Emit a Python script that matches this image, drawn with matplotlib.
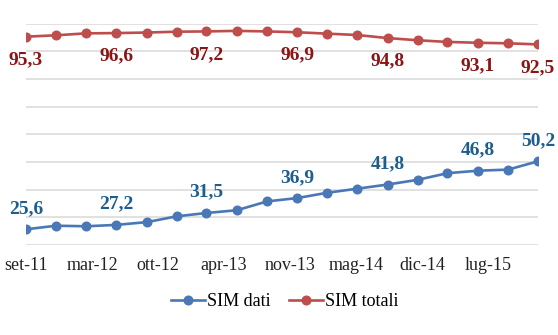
import datetime as dt

import matplotlib
matplotlib.use("Agg")
import matplotlib.pyplot as plt
import matplotlib.dates as mdates
from matplotlib.ticker import FixedLocator, FuncFormatter

# ── Dati (trimestrali, set-11 → dic-15) ────────────────────────────────────
periodi = [
    "2011-09", "2011-12", "2012-03", "2012-06", "2012-09", "2012-12",
    "2013-03", "2013-06", "2013-09", "2013-12", "2014-03", "2014-06",
    "2014-09", "2014-12", "2015-03", "2015-06", "2015-09", "2015-12",
]
sim_dati = [
    25.6, 26.9, 26.7, 27.2, 28.2, 30.3, 31.5, 32.5, 35.7,
    36.9, 38.8, 40.3, 41.8, 43.5, 45.9, 46.8, 47.2, 50.2,
]
sim_totali = [
    95.3, 95.8, 96.5, 96.6, 96.8, 97.1, 97.2, 97.4, 97.2,
    96.9, 96.4, 95.9, 94.8, 94.0, 93.4, 93.1, 92.9, 92.5,
]
idx_etichette = [0, 3, 6, 9, 12, 15, 17]
mesi_it = ["gen", "feb", "mar", "apr", "mag", "giu",
           "lug", "ago", "set", "ott", "nov", "dic"]

BLU = "#4a78b6"
BLU_TXT = "#1d5e8e"
ROSSO = "#bd4e4c"
ROSSO_TXT = "#8a1515"
GRIGIO = "#d9d9d9"
SERIF = ["Liberation Serif", "DejaVu Serif"]

date = [dt.datetime.strptime(p, "%Y-%m") for p in periodi]
x = mdates.date2num(date)

fig = plt.figure(figsize=(5.58, 3.35), dpi=100)
ax = fig.add_axes([0.0466, 0.2693, 0.9176, 0.66])

ax.plot(x, sim_dati, color=BLU, lw=1.9, marker="o", ms=6.2,
        label="SIM dati", zorder=3)
ax.plot(x, sim_totali, color=ROSSO, lw=1.9, marker="o", ms=6.2,
        label="SIM totali", zorder=3)

for i in idx_etichette:
    ax.annotate(f"{sim_dati[i]:.1f}".replace(".", ","), (x[i], sim_dati[i]),
                xytext=(0, 15), textcoords="offset points", ha="center",
                va="center", fontsize=14, fontweight="bold",
                family=SERIF, color=BLU_TXT)
    ax.annotate(f"{sim_totali[i]:.1f}".replace(".", ","), (x[i], sim_totali[i]),
                xytext=(0, -16.5), textcoords="offset points", ha="center",
                va="center", fontsize=14, fontweight="bold",
                family=SERIF, color=ROSSO_TXT)

ax.set_xlim(x[0], x[-1])
ax.set_ylim(20, 100)
ax.set_yticks(range(20, 101, 10))
ax.yaxis.grid(True, color=GRIGIO, lw=1.1)
ax.set_axisbelow(True)
ax.tick_params(axis="y", left=False, labelleft=False)

# asse date Excel: etichette ogni 200 giorni
tick_x = [x[0] + 200 * k for k in range(8)]
ax.xaxis.set_major_locator(FixedLocator(tick_x))


def fmt_data(v, pos):
    d = mdates.num2date(v)
    return f"{mesi_it[d.month - 1]}-{d.year % 100:02d}"


ax.xaxis.set_major_formatter(FuncFormatter(fmt_data))
ax.tick_params(axis="x", length=0, pad=9, labelsize=13, labelcolor="#222222")
for lab in ax.get_xticklabels():
    lab.set_family(SERIF)

for s in ax.spines.values():
    s.set_visible(False)

fig.legend(loc="center", bbox_to_anchor=(0.51, 0.099), ncol=2, frameon=False,
           prop={"family": SERIF, "size": 13}, handlelength=1.9,
           handletextpad=0.1, columnspacing=1.0)

fig.savefig("out.png", dpi=100)
